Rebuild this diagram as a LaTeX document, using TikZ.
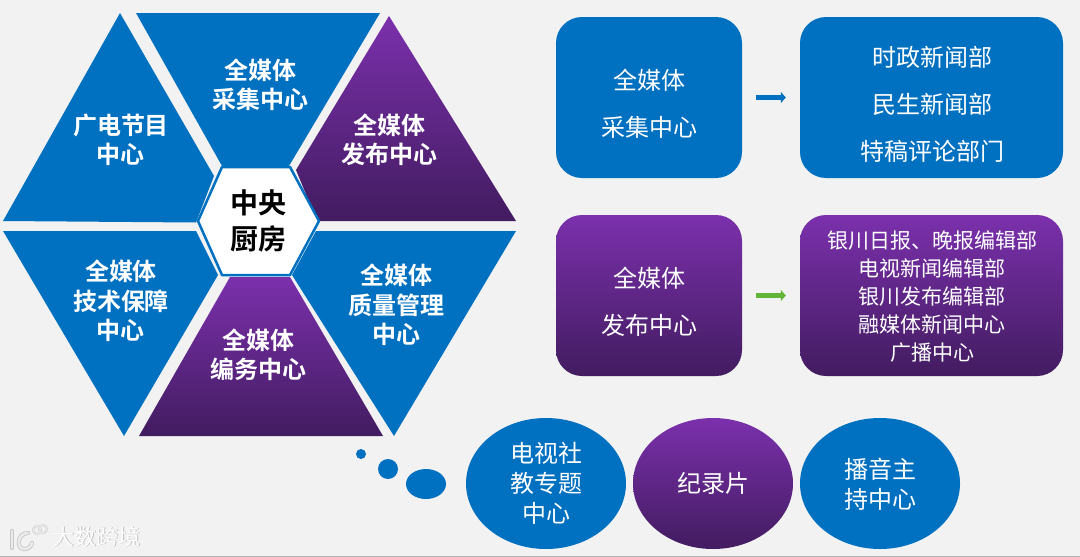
\documentclass[tikz,border=0pt]{standalone}
\usepackage{fontspec}
\setmainfont{Noto Sans CJK SC}
\newfontfamily\cjkb{Noto Sans CJK SC Bold}
\usetikzlibrary{arrows.meta,shapes.geometric}
\definecolor{bgc}{HTML}{F2F2F2}
\definecolor{bluec}{HTML}{0070C0}
\definecolor{ptop}{HTML}{7B30AC}
\definecolor{pmid}{HTML}{68298F}
\definecolor{pbot}{HTML}{421C60}
\definecolor{greenc}{HTML}{62B536}
\tikzset{
  x=1pt,y=-1pt,
  bluefill/.style={fill=bluec,draw=none},
  purplefill/.style={top color=ptop,middle color=pmid,bottom color=pbot,draw=none},
  tribold/.style={text=white,font=\cjkb\fontsize{24}{29.5}\selectfont,align=center,inner sep=0pt},
  boxlabel/.style={text=white,font=\fontsize{24}{47}\selectfont,align=center,inner sep=0pt},
  listlabel/.style={text=white,font=\fontsize{21}{28}\selectfont,align=center,inner sep=0pt},
  ovallabel/.style={text=white,font=\fontsize{24}{30}\selectfont,align=center,inner sep=0pt},
  roundbox/.style={rectangle,rounded corners=26pt,minimum width=#1,minimum height=161pt,inner sep=0pt},
  oval/.style={ellipse,minimum width=160pt,minimum height=131pt,inner sep=0pt},
  flowarrow/.style={line width=5pt,-{Triangle[length=5pt,width=11pt]},shorten <=14pt,shorten >=14pt},
}
\begin{document}
\begin{tikzpicture}
\useasboundingbox (0,0) rectangle (1080,557);
\fill[bgc] (0,0) rectangle (1080,557);
\fill[black!30] (0,556) rectangle (1080,557);

% triangles
\path[bluefill] (120,13) -- (3,221) -- (196,222.5) -- (214,176) -- cycle;
\path[bluefill] (136,13) -- (380,13) -- (289,166) -- (222,166) -- cycle;
\path[purplefill] (389,16) -- (516,221) -- (317,221) -- (296,170) -- cycle;
\path[bluefill] (3,231) -- (196,231) -- (218,275) -- (124,436) -- cycle;
\path[purplefill] (230,277) -- (290,277) -- (383,436) -- (139,436) -- cycle;
\path[bluefill] (516,231) -- (316,231) -- (292,275) -- (394,436) -- cycle;

% hexagon
\path[fill=white,draw=bluec,line width=2.5pt,line join=round]
  (198,221) -- (222,167) -- (290,167) -- (319,221) -- (290,275) -- (222,275) -- cycle;
\node[inner sep=0pt,align=center,font=\cjkb\fontsize{28}{36}\selectfont,text=black] (hub) at (258,221) {中央\\厨房};

\node[tribold] (t1) at (121,140) {广电节目\\中心};
\node[tribold] (t2) at (260,85) {全媒体\\采集中心};
\node[tribold] (t3) at (389,140) {全媒体\\发布中心};
\node[tribold] (t4) at (121,301) {全媒体\\技术保障\\中心};
\node[tribold] (t5) at (258,355) {全媒体\\编务中心};
\node[tribold] (t6) at (396,305) {全媒体\\质量管理\\中心};

% right boxes
\node[roundbox=186pt,bluefill] (b1) at (649,97.5) {};
\node[roundbox=263pt,bluefill] (b2) at (931.5,97.5) {};
\node[roundbox=186pt,purplefill] (b3) at (649,295.5) {};
\node[roundbox=263pt,purplefill] (b4) at (931.5,295.5) {};
\node[boxlabel] (l1) at (649,104) {全媒体\\采集中心};
\node[boxlabel] (l2) at (932,104) {时政新闻部\\民生新闻部\\特稿评论部门};
\node[boxlabel] (l3) at (649,302) {全媒体\\发布中心};
\node[listlabel] (l4) at (932,297) {银川日报、晚报编辑部\\电视新闻编辑部\\银川发布编辑部\\融媒体新闻中心\\广播中心};
\draw[flowarrow,draw=bluec] (b1.east) -- (b2.west);
\draw[flowarrow,draw=greenc] (b3.east) -- (b4.west);

% ovals
\node[oval,bluefill] (o1) at (546,483.5) {};
\node[oval,purplefill] (o2) at (713,483.5) {};
\node[oval,bluefill] (o3) at (880,483.5) {};
\node[ovallabel] (ol1) at (546,483) {电视社\\教专题\\中心};
\node[ovallabel] (ol2) at (713,483) {纪录片};
\node[ovallabel] (ol3) at (880,484) {播音主\\持中心};

% thought bubbles
\fill[bluec] (361,454) circle (5);
\fill[bluec] (388,469) circle (10);
\fill[bluec] (426,484) ellipse (20 and 15);

% watermark
\begin{scope}[line cap=round]
\foreach \c/\w in {black!22/4.2,white!92!black/2.6}{
  \draw[draw=\c,line width=\w pt] (12,531) -- (12,548);
  \draw[draw=\c,line width=\w pt] (28,533) .. controls (17,533) and (16,549) .. (24,549) .. controls (28,549) and (31,547) .. (32,543);
  \draw[draw=\c,line width=0.45*\w pt] (37,530) ellipse (4 and 4);
  \draw[draw=\c,line width=0.45*\w pt] (43,529) ellipse (4 and 4);
}
\end{scope}
\node[inner sep=0pt,text=black!25,font=\fontsize{22}{22}\selectfont] (wms) at (97,537.5) {大数跨境};
\node[inner sep=0pt,text=white,font=\fontsize{22}{22}\selectfont] (wm) at (96.4,537) {大数跨境};
\end{tikzpicture}
\end{document}
